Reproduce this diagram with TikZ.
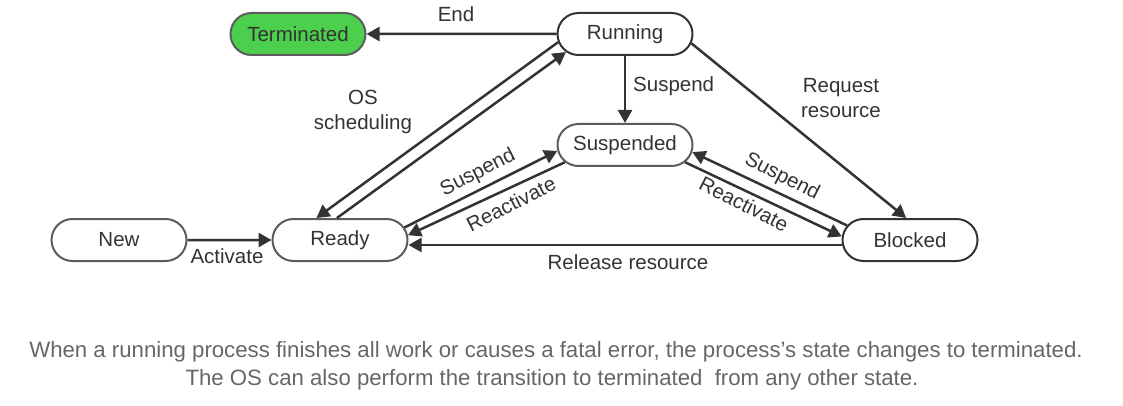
\documentclass[tikz,border=0pt]{standalone}
\usepackage{fontspec}
\setmainfont{Liberation Sans}
\usetikzlibrary{shapes.misc, arrows.meta}
\definecolor{edgegray}{HTML}{333333}
\definecolor{stategray}{HTML}{5C5C5C}
\definecolor{txtgray}{HTML}{333333}
\definecolor{capgray}{HTML}{666666}
\definecolor{termgreen}{HTML}{4CCF4C}
\newcommand{\labelfont}{\fontsize{20.5}{25}\selectfont}

\begin{document}
\begin{tikzpicture}[x=1pt, y=-1pt,
  state/.style={rounded rectangle, draw=stategray, line width=2pt, minimum width=135pt,
    minimum height=42pt, inner sep=0pt, text=txtgray, font=\labelfont},
  darkstate/.style={state, draw=edgegray},
  arr/.style={draw=edgegray, line width=2.5pt, -{Triangle[length=13pt,width=14pt]}},
  lbl/.style={text=txtgray, font=\labelfont, inner sep=0pt, align=center},
  caption/.style={text=capgray, font=\fontsize{22.2}{26}\selectfont, inner sep=0pt}]
\useasboundingbox (0,0) rectangle (1123,406);
% states
\node [state, fill=termgreen] (term) at (298,34) {Terminated};
\node [darkstate] (run) at (625,34) {Running};
\node [state] (susp) at (625,145) {Suspended};
\node [state] (new) at (119,240) {New};
\node [state] (ready) at (340,240) {Ready};
\node [darkstate] (block) at (910,240) {Blocked};
% transitions
\draw [arr] (run) -- (term);
\node [lbl] (endlbl) at (456,14) {End};
\draw [arr] (run) -- (susp);
\node [lbl, anchor=west] (runsusplbl) at (633,86) {Suspend};
\draw [arr] (run.352) -- (block.100);
\node [lbl] (reqlbl) at (841,98) {Request\\resource};
\draw [arr] (ready.98) -- (run.197);
\draw [arr] (run.187) -- (ready.137);
\node [lbl] (schedlbl) at (363,112) {OS\\scheduling};
\draw [arr] (ready.11) -- (susp.185);
\node [lbl, rotate=27] (rsusplbl) at (478,173) {Suspend};
\draw [arr] (susp.196) -- (ready.4);
\node [lbl, rotate=27] (rreactlbl) at (511,204) {Reactivate};
\draw [arr] (block.167) -- (susp.354);
\node [lbl, rotate=-27] (bsusplbl) at (782,177) {Suspend};
\draw [arr] (susp.344) -- (block.177);
\node [lbl, rotate=-27] (breactlbl) at (744,204) {Reactivate};
\draw [arr] ([yshift=-5pt]block.west) -- ([yshift=-5pt]ready.east);
\node [lbl] (rellbl) at (628,262) {Release resource};
\draw [arr] (new) -- (ready);
\node [lbl] (actlbl) at (227,256) {Activate};
% caption
\node [caption] (cap1) at (556,352) {When a running process finishes all work or causes a fatal error, the process's state changes to terminated.};
\node [caption] (cap2) at (552,380) {The OS can also perform the transition to terminated\ \ from any other state.};
\end{tikzpicture}
\end{document}
